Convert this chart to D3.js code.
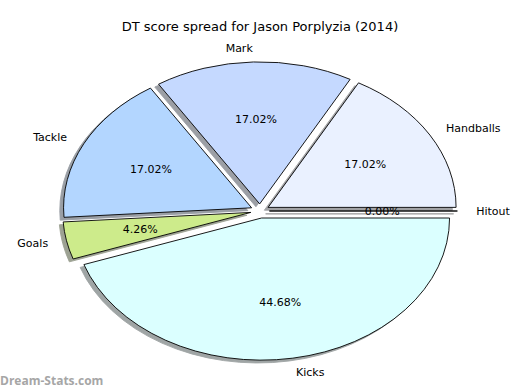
<!doctype html>
<html>
<head>
<script src="https://cdn.jsdelivr.net/npm/d3@7"></script>
<style>
  body { margin: 0; background: #fff; }
  svg { display: block; }
  text { font-family: "DejaVu Sans", sans-serif; fill: #000; }
</style>
</head>
<body>
<svg id="chart" width="520" height="390"></svg>
<script>
// data, in drawing order (counter-clockwise from 3 o'clock)
var labels = ["Handballs", "Mark", "Tackle", "Goals", "Kicks", "Hitout"];
var scores = [8, 8, 8, 2, 21, 0];
var colors = ["#eaf1ff", "#c5d9ff", "#b3d6ff", "#cdeb8b", "#dbffff", "#e0e0e0"];
var title = "DT score spread for Jason Porplyzia (2014)";

var W = 520, H = 390;
var cx = 260, cy = 211, rx = 188, ry = 142;
var explode = 0.05;

var svg = d3.select("#chart");

var total = d3.sum(scores);
var pie = d3.pie().sort(null).value(function(d) { return d; })
  .startAngle(Math.PI / 2).endAngle(Math.PI / 2 - 2 * Math.PI);
var arcs = pie(scores);

// unit arc, stretched to an ellipse by the transform
var arc = d3.arc().innerRadius(0).outerRadius(1);

function mid(d) { return (d.startAngle + d.endAngle) / 2; }
function offset(d, k) {
  var a = mid(d);
  return [k * rx * Math.sin(a), -k * ry * Math.cos(a)];
}
function shade(c) {
  var rgb = d3.rgb(c);
  return d3.rgb(rgb.r * 0.3, rgb.g * 0.3, rgb.b * 0.3).toString();
}

// shadows first (below every wedge)
svg.append("g").selectAll("path.shadow")
  .data(arcs)
  .enter()
  .append("path")
  .attr("class", "shadow")
  .attr("d", arc)
  .attr("transform", function(d) {
    var o = offset(d, explode);
    return "translate(" + (cx + o[0] - 0.02 * rx) + "," + (cy + o[1] + 0.02 * ry) + ") scale(" + rx + "," + ry + ")";
  })
  .attr("fill", function(d, i) { return shade(colors[i]); })
  .attr("stroke", function(d, i) { return shade(colors[i]); })
  .attr("stroke-width", 0.9)
  .attr("opacity", 0.5)
  .attr("vector-effect", "non-scaling-stroke");

svg.append("g").selectAll("path.wedge")
  .data(arcs)
  .enter()
  .append("path")
  .attr("class", "wedge")
  .attr("d", arc)
  .attr("transform", function(d) {
    var o = offset(d, explode);
    return "translate(" + (cx + o[0]) + "," + (cy + o[1]) + ") scale(" + rx + "," + ry + ")";
  })
  .attr("fill", function(d, i) { return colors[i]; })
  .attr("stroke", "#000")
  .attr("stroke-width", 0.9)
  .attr("stroke-linejoin", "miter")
  .attr("vector-effect", "non-scaling-stroke");

// category labels at 1.1 radius
svg.append("g").selectAll("text.label")
  .data(arcs)
  .enter()
  .append("text")
  .attr("class", "label")
  .attr("x", function(d) { return cx + offset(d, explode + 1.1)[0]; })
  .attr("y", function(d) { return cy + offset(d, explode + 1.1)[1]; })
  .attr("dy", "0.35em")
  .attr("text-anchor", function(d) { return Math.sin(mid(d)) > 1e-9 ? "start" : "end"; })
  .style("font-size", "11px")
  .text(function(d, i) { return labels[i]; });

// percentages at 0.6 radius
svg.append("g").selectAll("text.pct")
  .data(arcs)
  .enter()
  .append("text")
  .attr("class", "pct")
  .attr("x", function(d) { return cx + offset(d, explode + 0.6)[0]; })
  .attr("y", function(d) { return cy + offset(d, explode + 0.6)[1]; })
  .attr("dy", "0.35em")
  .attr("text-anchor", "middle")
  .style("font-size", "11px")
  .text(function(d) { return d3.format(".2f")(100 * d.value / total) + "%"; });

svg.append("text")
  .attr("x", W / 2)
  .attr("y", 26)
  .attr("dy", "0.35em")
  .attr("text-anchor", "middle")
  .style("font-size", "13px")
  .text(title);

svg.append("text")
  .attr("x", 0)
  .attr("y", 385)
  .style("font-family", "'Open Sans', sans-serif")
  .style("font-weight", "bold")
  .style("font-size", "12px")
  .style("fill", "#a6a6a6")
  .text("Dream-Stats.com");
</script>
</body>
</html>
